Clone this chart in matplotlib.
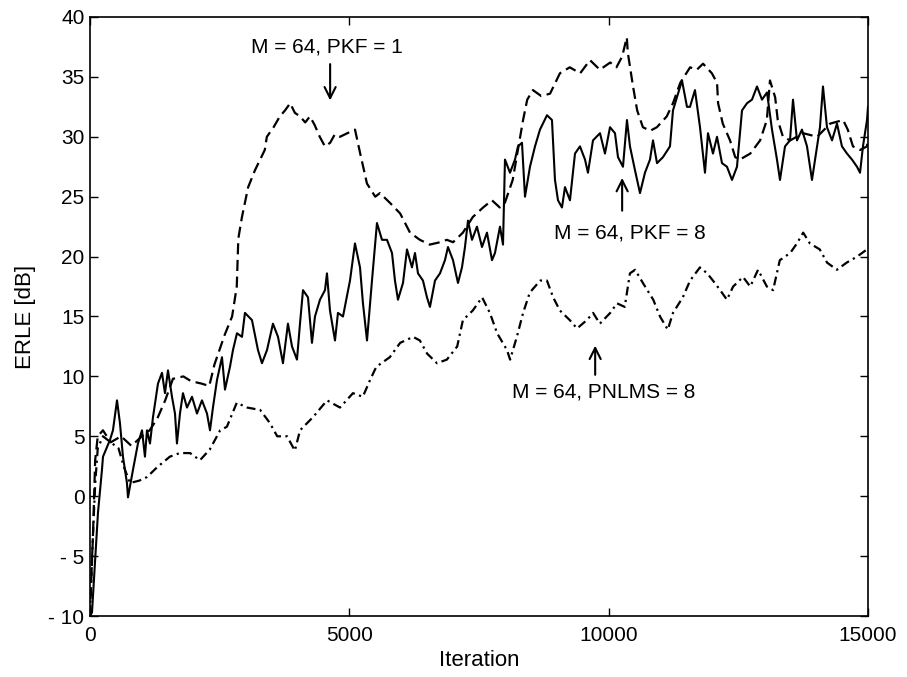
import matplotlib
matplotlib.use("Agg")
import matplotlib.pyplot as plt

plt.rcParams["font.family"] = ["Liberation Sans", "DejaVu Sans"]

# ERLE curves, iteration vs dB
pkf8_iter = [0, 39, 96, 154, 231, 251, 328, 386, 443, 521, 578, 636, 713, 733, 829, 925,
             1003, 1060, 1099, 1157, 1215, 1311, 1388, 1446, 1504, 1581, 1639, 1677, 1735,
             1793, 1870, 1967, 2063, 2159, 2256, 2314, 2371, 2449, 2545, 2603, 2699, 2757,
             2834, 2931, 2988, 3123, 3239, 3316, 3413, 3528, 3625, 3721, 3817, 3895, 3991,
             4049, 4107, 4203, 4280, 4338, 4434, 4531, 4569, 4627, 4724, 4781, 4878, 5013,
             5109, 5206, 5263, 5341, 5437, 5533, 5630, 5726, 5823, 5880, 5938, 6035, 6112,
             6208, 6266, 6324, 6420, 6497, 6555, 6652, 6748, 6844, 6902, 6999, 7095, 7172,
             7230, 7288, 7365, 7461, 7558, 7654, 7751, 7808, 7905, 7963, 8001, 8098, 8194,
             8252, 8329, 8387, 8483, 8580, 8676, 8811, 8907, 8965, 9023, 9100, 9158, 9254,
             9351, 9447, 9544, 9601, 9698, 9833, 9929, 10026, 10122, 10180, 10276, 10353,
             10411, 10508, 10604, 10700, 10797, 10855, 10932, 11047, 11182, 11240, 11317,
             11414, 11510, 11568, 11664, 11761, 11857, 11915, 12011, 12089, 12185, 12281,
             12378, 12474, 12571, 12667, 12763, 12860, 12956, 13053, 13149, 13245, 13303,
             13400, 13496, 13554, 13631, 13727, 13824, 13920, 14017, 14074, 14132, 14209,
             14306, 14402, 14498, 14595, 14691, 14788, 14846, 14903, 14981, 15000]
pkf8_erle = [-10, -9.7, -5.6, -1.4, 2.2, 3.3, 4.1, 4.7, 5.5, 8.0, 6.1, 3.3, 1.1, -0.1, 2.2, 4.4,
             5.5, 3.3, 5.5, 4.4, 6.6, 9.4, 10.3, 8.6, 10.5, 8.3, 6.9, 4.4, 6.9,
             8.6, 7.4, 8.3, 6.9, 8.0, 6.9, 5.5, 7.4, 9.7, 11.6, 8.9, 10.8, 12.2,
             13.6, 13.3, 15.3, 14.7, 12.2, 11.1, 12.2, 14.4, 13.3, 11.1, 14.4, 12.5, 11.4,
             14.4, 17.2, 16.6, 12.8, 15.0, 16.4, 17.2, 18.6, 15.5, 13.0, 15.3, 15.0, 18.0,
             21.1, 19.1, 16.1, 13.0, 18.0, 22.8, 21.4, 21.4, 20.3, 18.0, 16.4, 17.8, 20.6,
             19.1, 20.3, 18.6, 18.0, 16.6, 15.8, 18.0, 18.6, 19.7, 20.8, 19.7, 17.8, 19.1,
             20.8, 23.0, 21.4, 22.5, 20.8, 22.0, 19.7, 20.3, 22.5, 21.0, 28.1, 27.0, 28.1,
             29.2, 29.5, 25.0, 27.5, 29.2, 30.6, 31.8, 31.4, 26.4, 24.7, 24.1, 25.8, 24.7,
             28.6, 29.2, 28.1, 27.0, 29.7, 30.3, 28.6, 30.8, 30.3, 28.3, 27.5, 31.4,
             29.2, 27.2, 25.3, 27.0, 28.1, 29.7, 27.8, 28.3, 29.2, 32.2, 33.3,
             34.7, 32.5, 32.5, 33.9, 30.8, 27.0, 30.3, 28.6, 30.0, 27.8, 27.5,
             26.4, 27.5, 32.2, 32.8, 33.1, 34.2, 33.1, 33.7, 30.6, 28.1, 26.4,
             29.2, 29.7, 33.1, 29.7, 30.6, 29.2, 26.4, 29.2, 30.8, 34.2, 30.8,
             29.7, 31.1, 29.2, 28.6, 28.1, 27.5, 27.0, 29.2, 31.4, 32.5]

pkf1_iter = [0, 60, 100, 150, 250, 400, 600, 800, 1000, 1150, 1300, 1450, 1600, 1800, 1950,
             2150, 2300, 2400, 2600, 2740, 2830, 2860, 2930, 3050, 3180, 3370, 3410, 3540,
             3660, 3760, 3860, 3950, 4050, 4150, 4240, 4330, 4430, 4530, 4630, 4720, 4820,
             5010, 5110, 5210, 5340, 5500, 5590, 5780, 5980, 6170, 6360, 6550, 6750, 6880,
             7000, 7190, 7380, 7580, 7750, 7900, 8000, 8150, 8350, 8430, 8540, 8700, 8870,
             9060, 9250, 9450, 9640, 9830, 10030, 10150, 10260, 10350, 10370, 10470, 10550,
             10660, 10800, 10930, 11120, 11240, 11380, 11570, 11700, 11820, 11990, 12090,
             12110, 12200, 12340, 12440, 12530, 12730, 12920, 13050, 13110, 13210, 13260,
             13360, 13500, 13750, 14020, 14270, 14520, 14610, 14710, 14850, 14980, 15000]
pkf1_erle = [-10, -3.0, 3.0, 5.0, 5.5, 4.5, 5.0, 4.2, 5.0, 5.5, 6.5, 8.0, 9.8, 10.0, 9.6,
             9.4, 9.2, 11.0, 13.5, 15.0, 17.5, 21.5, 23.3, 25.8, 27.2, 28.9, 30.0, 30.8,
             31.7, 32.2, 32.8, 32.0, 31.7, 31.2, 31.7, 31.0, 30.0, 29.2, 29.5, 30.2, 30.0,
             30.4, 30.6, 28.6, 26.1, 25.0, 25.3, 24.5, 23.6, 22.0, 21.4, 21.0, 21.2, 21.4,
             21.2, 22.0, 23.3, 24.1, 24.7, 24.1, 24.5, 26.4, 31.4, 33.1, 33.9, 33.4, 33.6,
             35.3, 35.8, 35.3, 36.4, 35.6, 36.2, 35.8, 36.7, 38.3, 37.0, 34.2, 32.2,
             30.8, 30.5, 30.8, 31.7, 32.8, 34.5, 35.8, 35.6, 36.1, 35.3, 34.5,
             32.8, 31.1, 29.7, 28.3, 28.1, 28.6, 29.7, 31.4, 34.7, 33.3, 31.4,
             30.0, 29.7, 30.3, 30.0, 31.1, 31.4, 30.6, 29.2, 28.9, 29.2, 30.0]

pnlms_iter = [0, 50, 100, 150, 250, 400, 550, 650, 770, 950, 1100, 1290, 1540, 1730, 1930,
              2120, 2310, 2510, 2640, 2830, 3030, 3280, 3470, 3610, 3800, 3950, 4050, 4300,
              4570, 4820, 5070, 5260, 5400, 5520, 5780, 5980, 6230, 6360, 6500, 6690, 6880,
              7080, 7190, 7380, 7560, 7710, 7850, 8040, 8100, 8230, 8350, 8480, 8680, 8810,
              8930, 9060, 9250, 9390, 9580, 9700, 9830, 10030, 10160, 10310, 10410, 10510,
              10660, 10860, 10990, 11140, 11240, 11430, 11570, 11760, 11900, 12010, 12150,
              12280, 12400, 12590, 12730, 12880, 13050, 13170, 13300, 13500, 13630, 13750,
              13880, 14070, 14210, 14400, 14590, 14790, 14980, 15000]
pnlms_erle = [-10, -4.0, 1.0, 4.0, 5.0, 4.5, 4.0, 2.5, 1.1, 1.3, 1.6, 2.4, 3.3, 3.6, 3.6,
              3.0, 3.9, 5.5, 5.8, 7.8, 7.4, 7.2, 6.1, 5.0, 5.0, 3.8, 5.5, 6.6,
              8.0, 7.4, 8.6, 8.3, 9.7, 10.8, 11.6, 12.8, 13.3, 13.0, 11.9, 11.1, 11.4,
              12.5, 14.7, 15.5, 16.6, 15.3, 13.6, 12.2, 11.4, 13.3, 15.3, 17.0, 18.0, 18.0,
              16.6, 15.5, 14.7, 14.0, 14.7, 15.3, 14.4, 15.3, 16.1, 15.8, 18.6, 18.9,
              17.8, 16.4, 15.0, 13.9, 15.3, 16.6, 18.0, 19.1, 18.6, 18.0, 17.2,
              16.4, 17.5, 18.3, 17.5, 18.9, 17.5, 17.2, 19.7, 20.3, 21.1, 22.0,
              21.1, 20.6, 19.5, 18.9, 19.5, 20.0, 20.6, 20.8]

y_ticks = [-10, -5, 0, 5, 10, 15, 20, 25, 30, 35, 40]
y_tick_labels = ["- 10", "- 5", "0", "5", "10", "15", "20", "25", "30", "35", "40"]
x_ticks = [0, 5000, 10000, 15000]

fig = plt.figure(figsize=(9.07, 6.77), dpi=100)
ax = fig.add_axes([0.0992, 0.0901, 0.8578, 0.8848])

ax.plot(pkf8_iter, pkf8_erle, color="k", lw=1.5, ls="-")
ax.plot(pkf1_iter, pkf1_erle, color="k", lw=1.6, dashes=(5, 2.5))
ax.plot(pnlms_iter, pnlms_erle, color="k", lw=1.6, dashes=(4, 2, 1, 2))

ax.set_xlim(0, 15000)
ax.set_ylim(-10, 40)
ax.set_xticks(x_ticks)
ax.set_yticks(y_ticks)
ax.set_yticklabels(y_tick_labels)
ax.tick_params(direction="in", length=6, width=1, top=True, right=True,
               labelsize=15)
ax.tick_params(axis="x", pad=7)
ax.tick_params(axis="y", pad=4)
for s in ax.spines.values():
    s.set_linewidth(1.2)

ax.set_xlabel("Iteration", fontsize=16, labelpad=4)
ax.set_ylabel("ERLE [dB]", fontsize=16, labelpad=9)

arrow = dict(arrowstyle="->", color="k", lw=1.5, mutation_scale=20)
ax.annotate("", xy=(4630, 32.8), xytext=(4630, 36.3), arrowprops=arrow)
ax.text(4560, 37.5, "M = 64, PKF = 1", fontsize=15, ha="center", va="center")
ax.annotate("", xy=(10260, 26.8), xytext=(10260, 23.6), arrowprops=arrow)
ax.text(10410, 22.0, "M = 64, PKF = 8", fontsize=15, ha="center", va="center")
ax.annotate("", xy=(9740, 12.8), xytext=(9740, 9.9), arrowprops=arrow)
ax.text(9910, 8.7, "M = 64, PNLMS = 8", fontsize=15, ha="center", va="center")

fig.savefig("out.png", dpi=100)
